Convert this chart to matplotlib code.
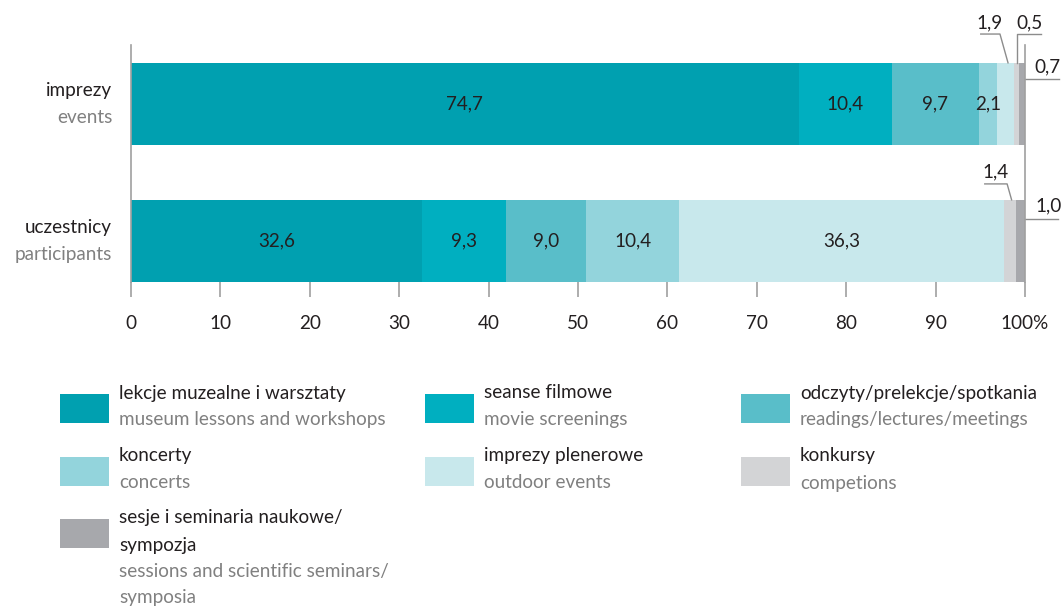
import matplotlib
matplotlib.use("Agg")
import matplotlib.pyplot as plt
import matplotlib.transforms as mtrans
from matplotlib.patches import Rectangle
import numpy as np

plt.rcParams['font.family'] = ['Lato', 'DejaVu Sans']

# data
rows_pl = ["imprezy", "uczestnicy"]
rows_en = ["events", "participants"]
cats_pl = ["lekcje muzealne i warsztaty", "seanse filmowe", "odczyty/prelekcje/spotkania",
           "koncerty", "imprezy plenerowe", "konkursy",
           "sesje i seminaria naukowe/\nsympozja"]
cats_en = ["museum lessons and workshops", "movie screenings", "readings/lectures/meetings",
           "concerts", "outdoor events", "competions",
           "sessions and scientific seminars/\nsymposia"]
events = [74.7, 10.4, 9.7, 2.1, 1.9, 0.5, 0.7]
participants = [32.6, 9.3, 9.0, 10.4, 36.3, 1.4, 1.0]
colors = ["#00a0b0", "#00afc0", "#59bec9", "#93d4dc", "#c8e8ec", "#d3d4d6", "#a7a8ac"]
ticks = [0, 10, 20, 30, 40, 50, 60, 70, 80, 90, 100]
tick_labels = ["0", "10", "20", "30", "40", "50", "60", "70", "80", "90", "100%"]

DARK = "#231f20"
GREY = "#808080"
LINE = "#8c8c8c"
FS = 13.6

fig = plt.figure(figsize=(10.62, 6.11), dpi=100)
ax = fig.add_axes([131 / 1062, 1 - 282 / 611, (1025 - 131) / 1062, (282 - 45) / 611])

series = [events, participants]
for i, vals in enumerate(series):
    left = 0
    for j, v in enumerate(vals):
        ax.barh(i, v, left=left, height=0.6, color=colors[j], linewidth=0)
        if v >= 2:
            ax.text(left + v / 2, i, f"{v:.1f}".replace(".", ","), ha="center", va="center",
                    fontsize=FS, color=DARK)
        left += v

ax.set_xlim(0, 100)
ax.set_ylim(1.3, -0.43)
ax.set_xticks(ticks)
ax.set_xticklabels(tick_labels, fontsize=FS, color=DARK)
ax.set_yticks([])
ax.tick_params(axis="x", length=11, width=1.2, color="#a0a0a0", pad=13)
for s in ["top", "bottom"]:
    ax.spines[s].set_visible(False)
for s in ["left", "right"]:
    ax.spines[s].set_color("#a0a0a0")
    ax.spines[s].set_linewidth(1.2)

# row labels
trans = mtrans.blended_transform_factory(ax.transAxes, ax.transData)
for i in range(len(rows_pl)):
    ax.text(-0.021, i - 0.1, rows_pl[i], transform=trans, ha="right", va="center",
            fontsize=FS, color=DARK)
    ax.text(-0.021, i + 0.1, rows_en[i], transform=trans, ha="right", va="center",
            fontsize=FS, color=GREY)

def fmt(v):
    return f"{v:.1f}".replace(".", ",")

cum_e = np.cumsum(events)
cum_p = np.cumsum(participants)
lw = 1.0

# 1,9 (events, outdoor)
c = cum_e[4] - events[4] / 2
ax.plot([c + 0.25, c - 0.65, c - 2.8], [-0.3, -0.51, -0.51], color=LINE, lw=lw, clip_on=False)
ax.text(c - 1.85, -0.53, fmt(events[4]), ha="center", va="bottom", fontsize=FS, color=DARK)
# 0,5 (events, competitions)
c = cum_e[5] - events[5] / 2
ax.plot([c + 0.1, c + 0.1, c + 2.7], [-0.3, -0.51, -0.51], color=LINE, lw=lw, clip_on=False)
ax.text(c + 1.4, -0.53, fmt(events[5]), ha="center", va="bottom", fontsize=FS, color=DARK)
# 0,7 (events, sessions)
ax.plot([cum_e[6], cum_e[6] + 3.8], [-0.18, -0.18], color=LINE, lw=lw, clip_on=False)
ax.text(cum_e[6] + 2.5, -0.21, fmt(events[6]), ha="center", va="bottom", fontsize=FS, color=DARK)
# 1,4 (participants, competitions)
c = cum_p[5] - participants[5] / 2
ax.plot([c + 0.2, c - 0.3, c - 2.8], [0.7, 0.584, 0.584], color=LINE, lw=lw, clip_on=False)
ax.text(c - 1.55, 0.56, fmt(participants[5]), ha="center", va="bottom", fontsize=FS, color=DARK)
# 1,0 (participants, sessions)
ax.plot([cum_p[6], cum_p[6] + 3.7], [0.84, 0.84], color=LINE, lw=lw, clip_on=False)
ax.text(cum_p[6] + 2.6, 0.81, fmt(participants[6]), ha="center", va="bottom", fontsize=FS, color=DARK)

# legend (drawn in a full-figure pixel frame)
lax = fig.add_axes([0, 0, 1, 1])
lax.set_xlim(0, 1062)
lax.set_ylim(611, 0)
lax.axis("off")
col_x = [60, 425, 741]
row_y = [394, 457, 519]
for k in range(len(cats_pl)):
    cx = col_x[k % 3]
    ry = row_y[k // 3]
    lax.add_patch(Rectangle((cx, ry), 49, 29, color=colors[k], lw=0))
    pl_lines = cats_pl[k].split("\n")
    en_lines = cats_en[k].split("\n")
    y = ry - 1
    for t in pl_lines:
        lax.text(cx + 59, y, t, ha="left", va="center", fontsize=FS, color=DARK)
        y += 27
    for t in en_lines:
        lax.text(cx + 59, y, t, ha="left", va="center", fontsize=FS, color=GREY)
        y += 26

fig.savefig("out.png", dpi=100)
